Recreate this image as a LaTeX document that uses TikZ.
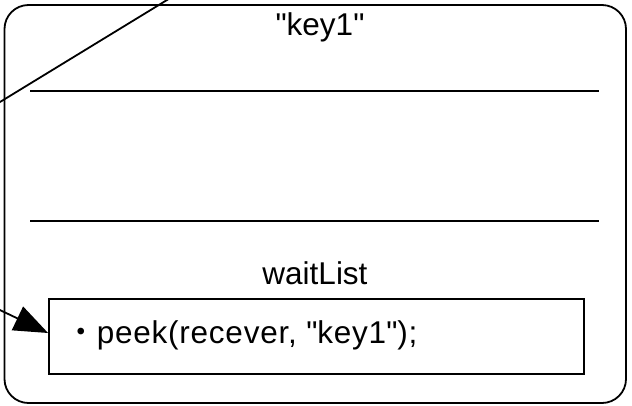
\documentclass[tikz,border=0pt]{standalone}
\usepackage{fontspec}
\setmainfont{Liberation Sans}
\newfontfamily\cjk{Noto Sans CJK JP}
\usetikzlibrary{arrows.meta}

\begin{document}
\begin{tikzpicture}[x=1pt, y=-1pt, line width=1.8pt, font=\fontsize{31.5}{36}\selectfont]
    \useasboundingbox (0,0) rectangle (632,405);
    \clip (0,0) rectangle (632,405);

    % Outer object
    \node[draw, rounded corners=24pt, minimum width=621.5pt, minimum height=398pt, inner sep=0pt] (keyobj) at (315.25,204) {};

    % Labels
    \node[anchor=base] (keylabel) at (320,35) {\textquotedbl key1\textquotedbl};
    \node[anchor=base] (waitlabel) at (315,284) {waitList};

    % Separators
    \coordinate (sepA1) at (30,91);
    \coordinate (sepA2) at (599,91);
    \coordinate (sepB1) at (30,221);
    \coordinate (sepB2) at (599,221);
    \draw (sepA1) -- (sepA2);
    \draw (sepB1) -- (sepB2);

    % Wait list box
    \node[draw, minimum width=535pt, minimum height=75pt, inner sep=0pt] (waitbox) at (316.5,336.5) {};
    \node[anchor=base west, inner sep=0pt] (peekline) at (64.5,343)
        {{\cjk ・}\addfontfeature{LetterSpace=2.4}peek(recever, \textquotedbl key1\textquotedbl);};

    % Edges from outside
    \coordinate (refin) at (177,-6.1);
    \coordinate (refout) at (-10,108.1);
    \draw (refin) -- (refout);

    \coordinate (waitsrc) at (-10,305.3);
    \draw[-{Triangle[length=34pt,width=26pt]}] (waitsrc) -- ([yshift=3.5pt]waitbox.west);
\end{tikzpicture}
\end{document}
